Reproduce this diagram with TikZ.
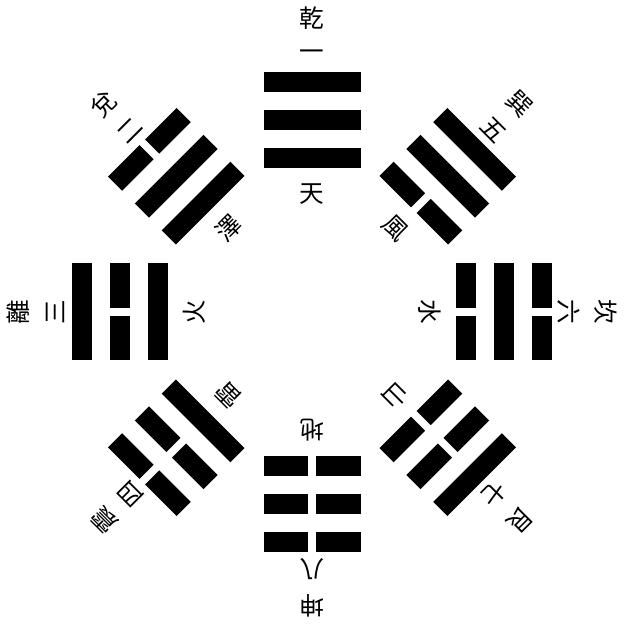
\documentclass[tikz,border=0pt]{standalone}
\usepackage{fontspec}
\newfontfamily\cjk{Noto Sans CJK TC}
\begin{document}
\begin{tikzpicture}[x=0.03cm,y=0.03cm]
   \useasboundingbox (-312,-312) rectangle (312,312);
   \tikzstyle{yao}=[fill=black]
   \tikzstyle{zi}=[font=\cjk\fontsize{21}{21}\selectfont, inner sep=0pt]
   \foreach \k/\gua/\num/\xiang/\a/\b/\c in {0/乾/一/天/1/1/1,1/巽/五/風/0/1/1,2/坎/六/水/0/1/0,3/艮/七/山/0/0/1,4/坤/八/地/0/0/0,5/震/四/雷/1/0/0,6/離/三/火/1/0/1,7/兌/二/澤/1/1/0} {
     \begin{scope}[rotate=-45*\k, transform shape]
       \node[zi] (name\k) at (0,294) {\gua};
       \node[zi] (num\k) at (0,257) {\num};
       \node[zi] (xiang\k) at (0,118) {\xiang};
       \foreach \y/\s in {154/\a,192/\b,230/\c} {
         \ifnum\s=1
           \fill[yao] (-48.5,\y-10) rectangle (48.5,\y+10);
         \else
           \fill[yao] (-48.5,\y-10) rectangle (-4,\y+10);
           \fill[yao] (4,\y-10) rectangle (48.5,\y+10);
         \fi
       }
     \end{scope}
   }
\end{tikzpicture}
\end{document}
